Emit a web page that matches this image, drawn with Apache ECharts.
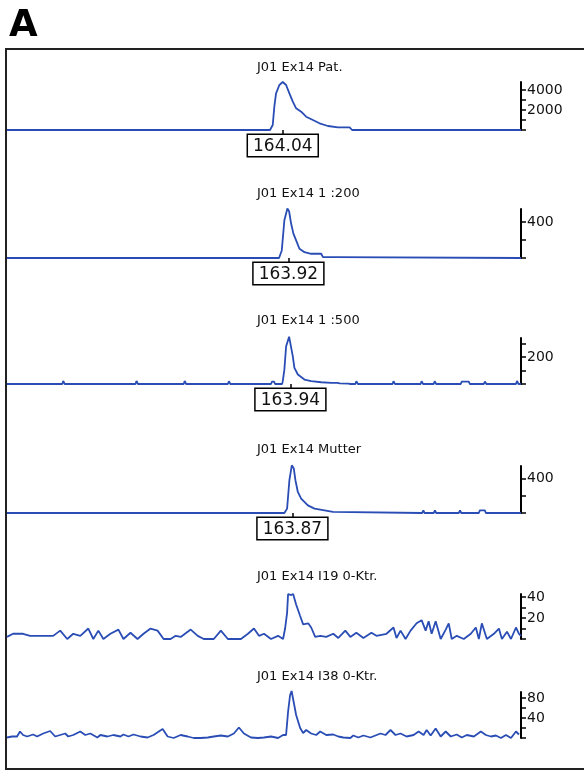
<!DOCTYPE html>
<html>
<head>
<meta charset="utf-8">
<script src="https://cdn.jsdelivr.net/npm/echarts@6/dist/echarts.min.js"></script>
<style>
html, body { margin: 0; padding: 0; background: #fff; }
#chart { width: 584px; height: 772px; }
</style>
</head>
<body>
<div id="chart"></div>
<script>
// panel titles, size calls (bp) and y scales
const panelTitles = ['J01 Ex14 Pat.', 'J01 Ex14 1 :200', 'J01 Ex14 1 :500', 'J01 Ex14 Mutter', 'J01 Ex14 I19 0-Ktr.', 'J01 Ex14 I38 0-Ktr.'];
const sizeCalls = ['164.04', '163.92', '163.94', '163.87', null, null];
const peakScans = [274.7, 280.3, 282.3, 284.3, null, null];
const yMaxes = [4800, 545, 340, 545, 43, 92];
const tickSteps = [1000, 200, 100, 200, 10, 20];
const labelSteps = [2000, 400, 200, 400, 20, 40];

// traces: [scan, intensity]
const tracePat = [[0,0],[262,0],[264.7,500],[266.3,2330],[268,3660],[271.3,4500],[274.7,4800],[278,4500],[281.3,3660],[284.7,2830],[288,2170],[293,1830],[298,1330],[304.7,1000],[311.3,670],[319.7,400],[329.7,270],[341.3,270],[343.7,0],[512,0]];
const trace200 = [[0,0],[271,0],[271.3,9],[273.7,84],[276.3,420],[279.3,551],[281,520],[283,383],[285.3,271],[288,196],[291.3,103],[296.3,65],[303,47],[313,47],[314.7,9],[326.3,9],[327,0],[512,0]];
const trace500 = [[0,0],[55,0],[56,22],[57.5,0],[128,0],[129,22],[130.5,0],[176,0],[177,22],[178.5,0],[220,0],[221,20],[222.5,0],[263,0],[264,18],[266,18],[267,0],[274,0],[274.7,21],[276.3,106],[278,277],[281,350],[282.5,340],[284.7,204],[286.3,119],[289.7,70],[296.3,33],[303,21],[313,13],[323,9],[329,9],[330,20],[331.5,5],[340,3],[342,0],[347,0],[348,20],[349.5,0],[384,0],[385,20],[386.5,0],[412,0],[413,20],[414.5,0],[425,0],[426,20],[427.5,0],[452,0],[453,18],[460,18],[461,0],[475,0],[476,18],[477.5,0],[507,0],[508,22],[509.5,0],[512,0]];
const traceMutter = [[0,0],[276.3,0],[279,51],[281.3,380],[283.7,553],[285.7,515],[287.3,380],[289.7,244],[293,167],[299.7,89],[306.3,51],[316.3,31],[324.7,12],[326.3,0],[413.5,0],[414.7,30],[416,0],[425,0],[426.3,30],[427.5,0],[450,0],[451.3,30],[452.5,0],[470,0],[471,30],[476,30],[477,0],[512,0]];
const traceI19 = [[0,2],[6,5],[16,5],[23,3],[46,3],[53,8],[60,0],[66,5],[73,3],[81,10],[86,0],[91,8],[96,0],[103,5],[111,9],[116,0],[123,6],[130,0],[136,5],[143,10],[150,8],[156,0],[163,0],[168,3],[173,2],[183,9],[190,3],[196,0],[206,0],[213,8],[220,0],[233,0],[240,5],[246,10],[251,3],[256,5],[263,0],[270,3],[275,0],[277,10],[279,25],[280,43],[283,42],[285,43],[288,33],[292,22],[295,14],[300,15],[303,11],[307,2],[312,3],[318,2],[325,5],[330,1],[337,8],[342,2],[348,6],[355,1],[363,6],[368,3],[378,5],[385,11],[388,1],[392,8],[397,0],[402,8],[408,15],[413,18],[417,8],[420,17],[423,5],[427,17],[432,0],[437,9],[440,15],[443,0],[448,3],[455,0],[462,5],[467,11],[470,0],[473,15],[478,0],[485,5],[490,10],[493,0],[498,7],[502,0],[507,11],[510,5],[512,3]];
const traceI38 = [[0,1],[5,3],[10,3],[13,13],[16,6],[20,3],[26,7],[30,3],[36,9],[43,14],[48,3],[53,6],[58,9],[61,3],[66,6],[73,13],[78,6],[83,9],[90,1],[93,6],[100,3],[106,6],[113,3],[116,7],[121,3],[126,7],[133,3],[140,1],[146,6],[155,18],[160,3],[166,0],[173,6],[180,3],[186,0],[193,0],[200,1],[206,3],[213,5],[220,3],[226,9],[231,21],[236,9],[243,1],[250,0],[256,1],[263,3],[270,0],[275,6],[278,6],[280,53],[282,86],[283.5,94],[285,92],[288,46],[292,20],[295,10],[298,16],[303,9],[308,6],[312,13],[318,6],[325,7],[330,3],[335,1],[342,0],[345,5],[350,1],[355,5],[362,1],[367,5],[372,9],[377,6],[382,16],[387,6],[392,9],[398,3],[405,6],[410,13],[415,6],[418,16],[422,5],[427,19],[432,3],[437,13],[442,3],[448,7],[453,1],[458,6],[465,3],[472,13],[477,6],[482,3],[487,5],[492,0],[497,6],[502,0],[507,13],[510,7]];
const traces = [tracePat, trace200, trace500, traceMutter, traceI19, traceI38];

// layout
const panelTops = [82, 209, 338, 466, 594, 692];
const panelHeights = [48, 49, 46, 47, 45, 46];
const titleTops = [61, 187, 314, 443, 570, 670];
const lineColor = '#2a4db5';
const font = 'DejaVu Sans';

const grids = [], xAxes = [], yAxes = [], series = [];
const titles = [{
    text: 'A', left: 9, top: 8, padding: 0,
    textStyle: { fontSize: 37, fontWeight: 'bold', fontFamily: 'DejaVu Sans', color: '#000' }
}];

traces.forEach((tr, i) => {
    grids.push({ left: 7, right: 63, top: panelTops[i], height: panelHeights[i] });
    const hasCall = sizeCalls[i] !== null;
    xAxes.push({
        gridIndex: i, type: 'value', min: 0, max: 512,
        axisLine: { show: false, onZero: false }, splitLine: { show: false },
        axisTick: hasCall
            ? { show: true, customValues: [peakScans[i]], length: 5, lineStyle: { color: '#000', width: 1.5 } }
            : { show: false },
        axisLabel: hasCall
            ? {
                show: true, customValues: [peakScans[i]], margin: 5,
                formatter: () => sizeCalls[i],
                fontSize: 17, fontFamily: font, color: '#111',
                backgroundColor: '#fff', borderColor: '#000', borderWidth: 1.5,
                padding: [3, 5, 1, 5]
            }
            : { show: false }
    });
    yAxes.push({
        gridIndex: i, type: 'value', position: 'right',
        min: 0, max: yMaxes[i], interval: tickSteps[i],
        splitLine: { show: false },
        axisLine: { show: true, onZero: false, lineStyle: { color: '#000', width: 2 } },
        axisTick: { show: true, length: 5, lineStyle: { color: '#000', width: 1.5 } },
        axisLabel: {
            margin: 6, fontSize: 14, fontFamily: font, color: '#111',
            showMaxLabel: false,
            formatter: v => (v > 0 && v % labelSteps[i] === 0) ? String(v) : ''
        }
    });
    series.push({
        type: 'line', xAxisIndex: i, yAxisIndex: i, data: tr,
        showSymbol: false, clip: false,
        lineStyle: { color: lineColor, width: 1.8 }
    });
    titles.push({
        text: panelTitles[i], left: 257, top: titleTops[i], padding: 0,
        textStyle: { fontSize: 13, fontWeight: 'normal', fontFamily: font, color: '#111' }
    });
});

const chart = echarts.init(document.getElementById('chart'), null, { renderer: 'canvas' });
chart.setOption({
    animation: false,
    backgroundColor: '#fff',
    title: titles,
    grid: grids,
    xAxis: xAxes,
    yAxis: yAxes,
    series: series,
    graphic: [{
        type: 'rect', silent: true,
        shape: { x: 6, y: 49, width: 640, height: 720 },
        style: { fill: 'none', stroke: '#222', lineWidth: 2 }
    }]
});
</script>
</body>
</html>
